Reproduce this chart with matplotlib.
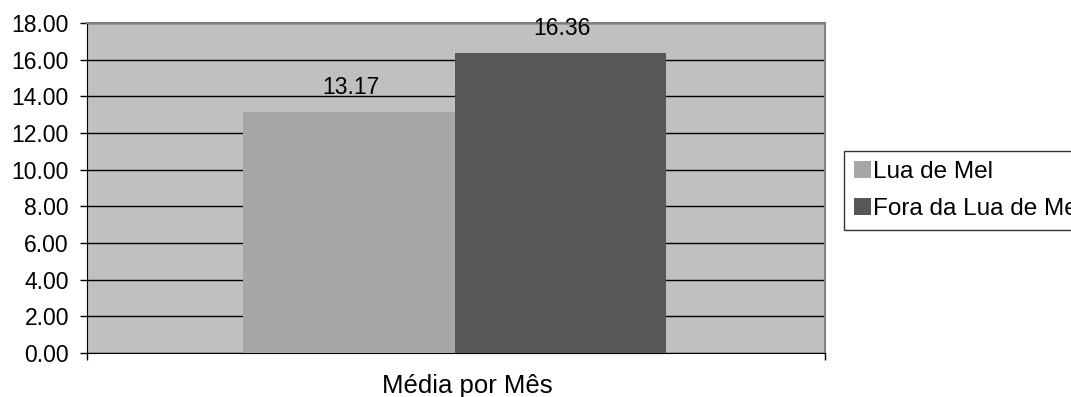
import matplotlib.pyplot as plt

plt.rcParams['font.family'] = ['Liberation Sans', 'DejaVu Sans']

category = "Média por Mês"
series = ["Lua de Mel", "Fora da Lua de Mel"]
values = [13.17, 16.36]
colors = ["#a6a6a6", "#575757"]

fig = plt.figure(figsize=(10.71, 3.97), dpi=100)
ax = fig.add_axes([0.0812, 0.1108, 0.6891, 0.8313])
ax.set_facecolor("#c0c0c0")

width = 0.286
offsets = [-width / 2, width / 2]
for name, v, c, off in zip(series, values, colors, offsets):
    ax.bar(off - 0.002, v, width=width, color=c, label=name, zorder=3)
    ax.annotate("%.2f" % v, (off, v), xytext=(0, 12.8), textcoords="offset points",
                ha="center", va="baseline", fontsize=16.5, zorder=4)

ax.set_xlim(-0.5, 0.5)
ax.set_ylim(0, 18)
ax.set_yticks(range(0, 19, 2))
ax.set_yticklabels(["%.2f" % y for y in range(0, 19, 2)], fontsize=16.5)
ax.yaxis.grid(True, color="black", linewidth=1, zorder=1)
ax.set_axisbelow(True)
ax.set_xticks([-0.5, 0.5])
ax.set_xticklabels(["", ""])
ax.tick_params(axis="both", direction="out", length=5, width=1, color="black")
ax.tick_params(axis="y", pad=8)
ax.set_xlabel(category, fontsize=18.5, va="baseline")
ax.xaxis.set_label_coords(0.515, -0.122)

for s in ["top", "right"]:
    ax.spines[s].set_color("#808080")
    ax.spines[s].set_linewidth(1.5)
ax.spines["left"].set_color("black")
ax.spines["bottom"].set_color("black")

leg = fig.legend(loc="upper left", bbox_to_anchor=(0.788, 0.62), fontsize=17.5,
                 frameon=True, fancybox=False, edgecolor="black",
                 handlelength=0.7, handleheight=0.7, handletextpad=0.1,
                 borderpad=0.4, labelspacing=0.65, borderaxespad=0)
leg.get_frame().set_linewidth(1)

plt.savefig("out.png", dpi=100)
